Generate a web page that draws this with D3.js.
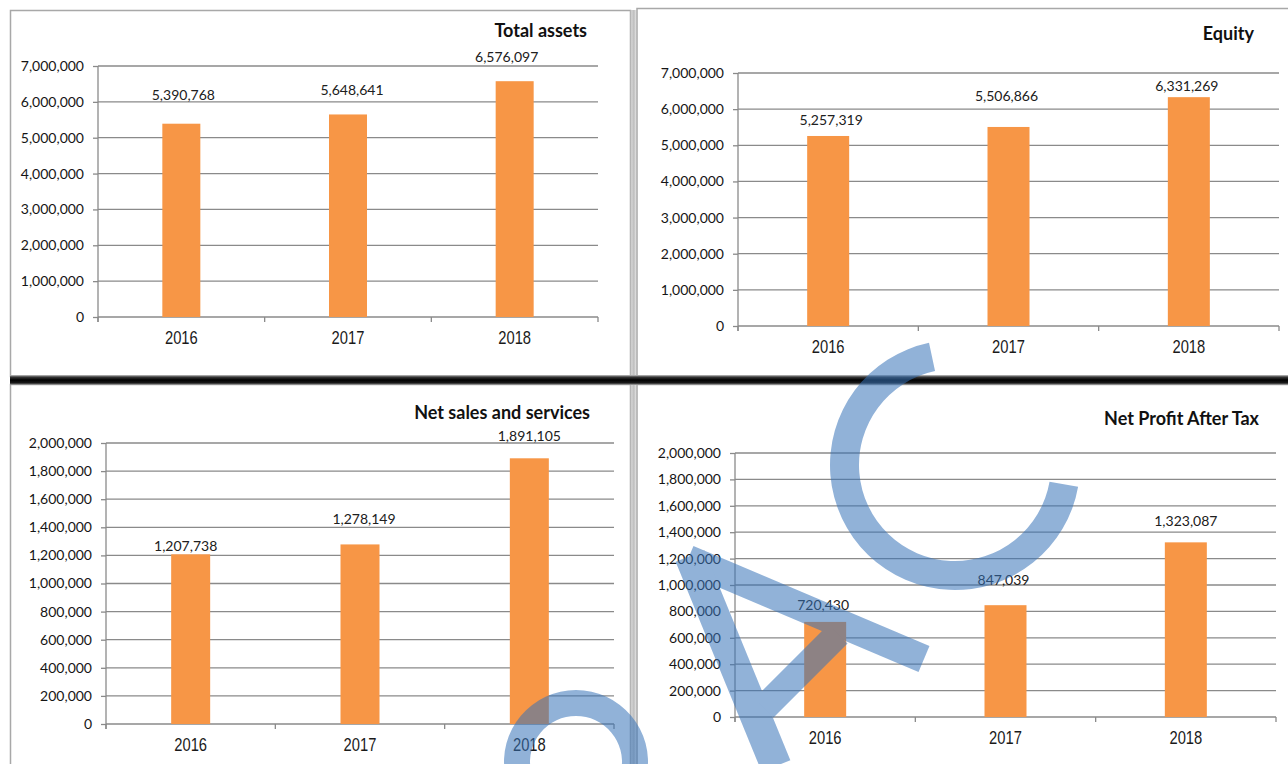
<html>
<head>
<script src="https://d3js.org/d3.v7.min.js"></script>
<style>
    body { margin: 0; background: #fff; }
    .ylab text { font-family: Lato, "Open Sans", sans-serif; font-size: 14px; fill: #151515; }
    .vlabel { font-family: Lato, "Open Sans", sans-serif; font-size: 14px; fill: #202020; }
    .title { font-family: Lato, "Open Sans", sans-serif; font-size: 18px; font-weight: bold; fill: #111; }
    .year { font-family: "Liberation Sans", Arial, sans-serif; font-size: 18px; fill: #1a1a1a; }
    .grid { stroke: #8a8a8a; stroke-width: 1.3px; }
</style>
</head>
<body>
<svg id="chart" width="1288" height="764"></svg>
<script>
    // values
    const years = ["2016", "2017", "2018"];
    const totalAssets = [5390768, 5648641, 6576097];
    const equity = [5257319, 5506866, 6331269];
    const netSales = [1207738, 1278149, 1891105];
    const netProfit = [720430, 847039, 1323087];
    const millionTicks = [0, 1000000, 2000000, 3000000, 4000000, 5000000, 6000000, 7000000];
    const smallTicks = [0, 200000, 400000, 600000, 800000, 1000000, 1200000, 1400000, 1600000, 1800000, 2000000];
    const titles = ["Total assets", "Equity", "Net sales and services", "Net Profit After Tax"];

    // layout of each chart box (pixels)
    const panels = [
        { title: titles[0], values: totalAssets, ticks: millionTicks, x0: 98, x1: 598, y0: 66, y1: 317, titleX: 587, titleY: 37, barW: 38, lift: [[2, 29], [4, 24], [-8, 24]] },
        { title: titles[1], values: equity, ticks: millionTicks, x0: 738, x1: 1279, y0: 73, y1: 326, titleX: 1254, titleY: 40, barW: 42, lift: [[3, 16], [-2, 31], [-2, 11]] },
        { title: titles[2], values: netSales, ticks: smallTicks, x0: 106, x1: 614, y0: 443, y1: 724, titleX: 590, titleY: 419, barW: 39, lift: [[-5, 8], [4, 25], [0, 22]] },
        { title: titles[3], values: netProfit, ticks: smallTicks, x0: 735, x1: 1276, y0: 453, y1: 717, titleX: 1259, titleY: 425, barW: 42, lift: [[-2, 17], [-2, 25], [0, 21]] }
    ];

    const svg = d3.select("#chart");
    const defs = svg.append("defs");

    let band = defs.append("linearGradient").attr("id", "band").attr("x1", 0).attr("x2", 0).attr("y1", 0).attr("y2", 1);
    [["0%", "#c8c8c8"], ["20%", "#3a3a3a"], ["50%", "#000"], ["80%", "#1a1a1a"], ["100%", "#b0b0b0"]].forEach(s => {
        band.append("stop").attr("offset", s[0]).attr("stop-color", s[1]);
    });
    let sep = defs.append("linearGradient").attr("id", "sep").attr("x1", 0).attr("x2", 1).attr("y1", 0).attr("y2", 0);
    [["0%", "#a8a8a8"], ["25%", "#d4d4d4"], ["55%", "#bdbdbd"], ["80%", "#dcdcdc"], ["100%", "#a8a8a8"]].forEach(s => {
        sep.append("stop").attr("offset", s[0]).attr("stop-color", s[1]);
    });

    // frames
    const frame = svg.append("g").attr("fill", "none").attr("stroke", "#a8a8a8").attr("stroke-width", 1.5);
    frame.append("rect").attr("x", 10.5).attr("y", 10.5).attr("width", 620).attr("height", 366);
    frame.append("rect").attr("x", 637).attr("y", 8.5).attr("width", 700).attr("height", 368);
    frame.append("rect").attr("x", 10.5).attr("y", 384.5).attr("width", 620).attr("height", 420);
    frame.append("rect").attr("x", 637).attr("y", 384.5).attr("width", 700).attr("height", 420);
    svg.append("rect").attr("x", 630).attr("y", 10).attr("width", 7).attr("height", 754).attr("fill", "url(#sep)");
    svg.append("rect").attr("x", 10).attr("y", 375).attr("width", 1278).attr("height", 10).attr("fill", "url(#band)");

    panels.forEach(p => {
        const g = svg.append("g");
        const yMax = p.ticks[p.ticks.length - 1];
        const y = d3.scaleLinear().domain([0, yMax]).range([p.y1, p.y0]);
        const step = (p.x1 - p.x0) / years.length;
        const pad = 1 - p.barW / step;
        const x = d3.scaleBand().domain(years).range([p.x0, p.x1]).paddingInner(pad).paddingOuter(pad / 2);

        // gridlines
        g.selectAll("line.grid").data(p.ticks)
            .join("line")
            .attr("class", "grid")
            .attr("x1", p.x0).attr("x2", p.x1)
            .attr("y1", d => y(d)).attr("y2", d => y(d));

        // y axis
        const leftAxis = d3.axisLeft(y).tickValues(p.ticks).tickSize(5).tickSizeOuter(0).tickPadding(9).tickFormat(d3.format(","));
        const ax = g.append("g").attr("class", "ylab").attr("transform", `translate(${p.x0},0)`).call(leftAxis);
        ax.select(".domain").remove();
        ax.selectAll("line").attr("stroke", "#8a8a8a").attr("stroke-width", 1.3);
        g.append("line").attr("class", "grid").attr("x1", p.x0).attr("x2", p.x0).attr("y1", p.y0).attr("y2", p.y1 + 5);

        // category ticks
        g.selectAll("line.ct").data(d3.range(years.length + 1))
            .join("line")
            .attr("class", "grid ct")
            .attr("x1", i => p.x0 + i * step).attr("x2", i => p.x0 + i * step)
            .attr("y1", p.y1).attr("y2", p.y1 + 5);

        // bars
        g.selectAll("rect.bar").data(p.values)
            .join("rect")
            .attr("class", "bar")
            .attr("x", (d, i) => x(years[i]))
            .attr("y", d => y(d))
            .attr("width", x.bandwidth())
            .attr("height", d => p.y1 - y(d))
            .attr("fill", "#f79646");

        // data labels
        g.selectAll("text.vlabel").data(p.values)
            .join("text")
            .attr("class", "vlabel")
            .attr("text-anchor", "middle")
            .attr("x", (d, i) => x(years[i]) + x.bandwidth() / 2 + p.lift[i][0])
            .attr("y", (d, i) => y(d) - p.lift[i][1])
            .attr("dy", "0.35em")
            .text(d => d3.format(",")(d));

        // year labels
        g.selectAll("text.year").data(years)
            .join("text")
            .attr("class", "year")
            .attr("text-anchor", "middle")
            .attr("transform", d => `translate(${x(d) + x.bandwidth() / 2},${p.y1 + 26.5}) scale(0.82,1)`)
            .text(d => d);

        g.append("text").attr("class", "title")
            .attr("x", p.titleX).attr("y", p.titleY)
            .attr("text-anchor", "end")
            .text(p.title);
    });

    // watermark strokes over the charts
    const wm = svg.append("g").attr("opacity", 0.55).attr("fill", "rgb(55,115,185)").attr("stroke", "rgb(55,115,185)");
    const deg = Math.PI / 180;
    wm.append("path")
        .attr("transform", "translate(955,465)")
        .attr("stroke", "none")
        .attr("d", d3.arc().innerRadius(96).outerRadius(125).startAngle(-260 * deg).endAngle(-12 * deg)());
    wm.append("path")
        .attr("transform", "translate(576,762)")
        .attr("stroke", "none")
        .attr("d", d3.arc().innerRadius(46).outerRadius(72).startAngle(-100 * deg).endAngle(100 * deg)());
    wm.append("path").attr("fill", "none").attr("stroke-width", 28)
        .attr("d", "M688,559L924,659");
    wm.append("path").attr("fill", "none").attr("stroke-width", 31)
        .attr("d", "M690,556L776,766");
    wm.append("path").attr("fill", "none").attr("stroke-width", 27)
        .attr("d", "M764,708L838,634");
</script>
</body>
</html>
